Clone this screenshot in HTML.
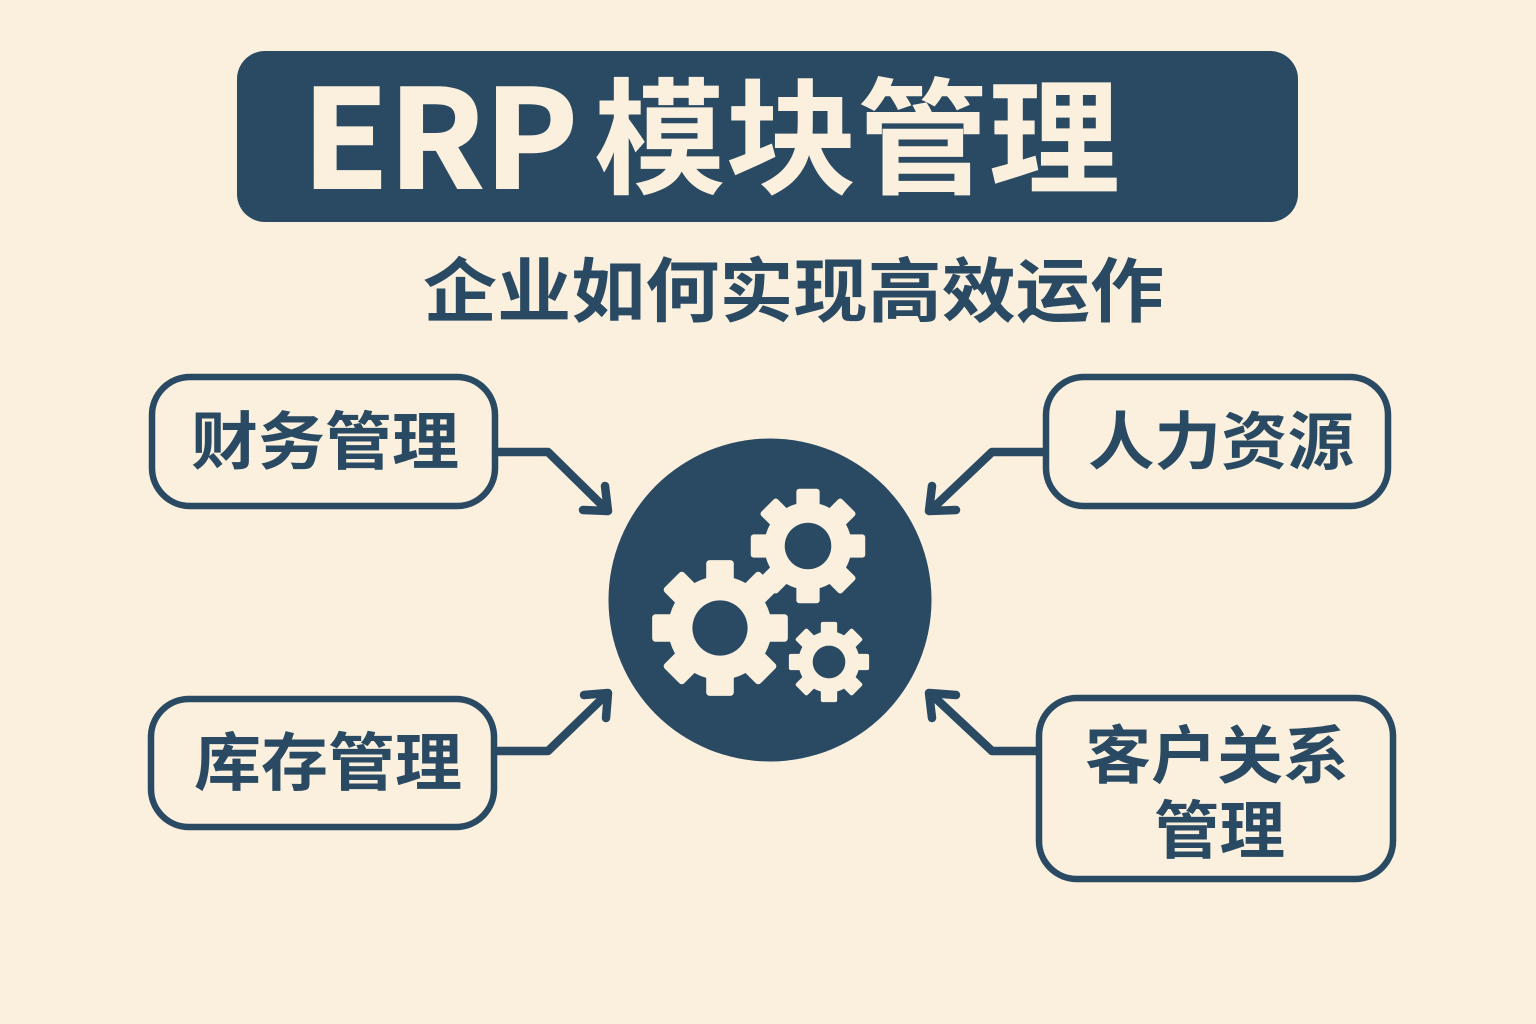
<!DOCTYPE html>
<html lang="zh"><head><meta charset="utf-8"><style>
html,body{margin:0;padding:0;background:#faf0dd}
svg{display:block}
text{font-family:"Liberation Sans","Noto Sans CJK SC",sans-serif;font-weight:700}
.c{font-family:"Noto Sans CJK SC",sans-serif}
</style></head><body>
<svg width="1536" height="1024" viewBox="0 0 1536 1024" xmlns="http://www.w3.org/2000/svg">
<defs>
<g id="gear">
 <circle r="45" fill="#faf0dd"/>
 <g fill="#faf0dd">
  <rect x="-12" y="-59" width="24" height="26" rx="3"/>
  <rect x="-12" y="-59" width="24" height="26" rx="3" transform="rotate(45)"/>
  <rect x="-12" y="-59" width="24" height="26" rx="3" transform="rotate(90)"/>
  <rect x="-12" y="-59" width="24" height="26" rx="3" transform="rotate(135)"/>
  <rect x="-12" y="-59" width="24" height="26" rx="3" transform="rotate(180)"/>
  <rect x="-12" y="-59" width="24" height="26" rx="3" transform="rotate(225)"/>
  <rect x="-12" y="-59" width="24" height="26" rx="3" transform="rotate(270)"/>
  <rect x="-12" y="-59" width="24" height="26" rx="3" transform="rotate(315)"/>
 </g>
 <circle r="24" fill="#2a4a63"/>
</g>
</defs>
<rect width="1536" height="1024" fill="#faf0dd"/>
<rect x="237" y="51" width="1061" height="171" rx="28" fill="#2a4a63"/>
<text class="c" x="302" y="188" font-size="136" fill="#faf0dd" stroke="#faf0dd" stroke-width="2" textLength="276" lengthAdjust="spacingAndGlyphs">ERP</text>
<text class="c" x="594" y="184" font-size="126" fill="#faf0dd" textLength="526" lengthAdjust="spacingAndGlyphs">模块管理</text>
<text class="c" x="423" y="316" font-size="70" fill="#2a4a63" textLength="741" lengthAdjust="spacingAndGlyphs">企业如何实现高效运作</text>

<g fill="none" stroke="#2a4a63" stroke-width="6.500">
 <rect x="152" y="377" width="343" height="129" rx="38"/>
 <rect x="1046" y="377" width="342" height="129" rx="38"/>
 <rect x="151" y="699" width="343" height="128" rx="38"/>
 <rect x="1039" y="698" width="354" height="181" rx="38"/>
</g>
<g fill="#2a4a63" font-size="63">
 <text class="c" x="191" y="464" textLength="268" lengthAdjust="spacingAndGlyphs">财务管理</text>
 <text class="c" x="1088" y="464" textLength="266" lengthAdjust="spacingAndGlyphs">人力资源</text>
 <text class="c" x="194" y="785" textLength="268" lengthAdjust="spacingAndGlyphs">库存管理</text>
 <text class="c" x="1085" y="778" textLength="264" lengthAdjust="spacingAndGlyphs">客户关系</text>
 <text class="c" x="1154" y="853" textLength="131" lengthAdjust="spacingAndGlyphs">管理</text>
</g>
<g fill="none" stroke="#2a4a63" stroke-width="8.500" stroke-linecap="round" stroke-linejoin="round">
 <path d="M498 452H548L607 510"/><path d="M605 486L608 511L583 510"/>
 <path d="M1044 452H992L931 510"/><path d="M932 486L929 511L956 510"/>
 <path d="M498 751H548L607 694"/><path d="M584 695L608 693L606 718"/>
 <path d="M1037 751H992L931 694"/><path d="M956 695L929 693L932 718"/>
</g>
<circle cx="770" cy="600" r="161.500" fill="#2a4a63"/>
<use href="#gear" transform="translate(808 546) scale(0.97)"/>
<use href="#gear" transform="translate(720 628) scale(1.15)"/>
<use href="#gear" transform="translate(829 662) scale(0.68)"/>
</svg>
</body></html>
